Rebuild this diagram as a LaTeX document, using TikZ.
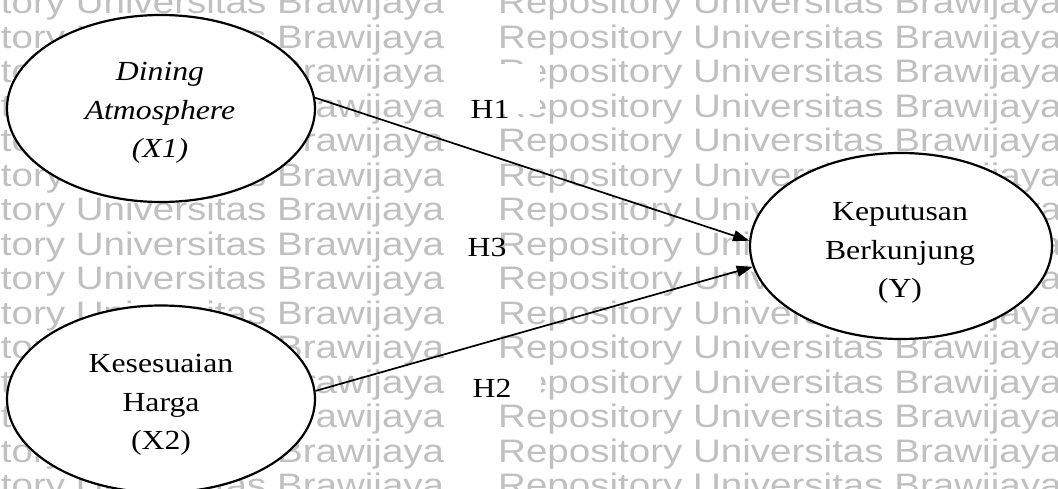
\documentclass[tikz,border=0pt]{standalone}
\usepackage{fontspec}
\setmainfont{Liberation Serif}[FakeStretch=1.15]
\newfontfamily\wmfont{Liberation Sans}[FakeStretch=1.186]
\usetikzlibrary{arrows.meta,shapes.geometric}
\definecolor{wmgray}{RGB}{192,192,192}
\tikzset{
  wm/.style={inner sep=0pt, text=wmgray, font=\wmfont\fontsize{32.5}{39}\selectfont},
  construct/.style={ellipse, draw=black, line width=2.2pt, fill=white,
    minimum width=308pt, minimum height=187pt, inner sep=0pt},
  ctext/.style={align=center, inner sep=0pt, font=\fontsize{27.6}{38.5}\selectfont},
  link/.style={-{Triangle[length=16pt,width=11pt]}, line width=1.7pt},
  hyp/.style={inner sep=0pt, font=\fontsize{27.6}{33}\selectfont},
  blank/.style={fill=white, inner sep=0pt, anchor=north west}
}
\begin{document}
\begin{tikzpicture}[x=1pt,y=-1pt]
\useasboundingbox (0,0) rectangle (1058,488);
\clip (0,0) rectangle (1058,488);

% repository watermark rows
\foreach \k in {0,...,14}{
  \pgfmathsetmacro{\wy}{13.5+34.5*\k}
  \node[wm, anchor=base east] (wl\k) at (444.5,\wy) {Repository Universitas Brawijaya};
  \node[wm, anchor=base west] (wr\k) at (498,\wy) {Repository Universitas Brawijaya};
}

% white backing of the H1 and H2 text boxes
\node[blank, minimum width=90pt, minimum height=50pt] (h1box) at (450,64) {};
\node[blank, minimum width=86pt, minimum height=40pt] (h2box) at (455,364) {};

% constructs
\node[construct] (x1) at (161,108.5) {};
\node[construct] (x2) at (161,399) {};
\node[construct, minimum width=302pt, minimum height=186pt] (y) at (901,246) {};

\node[ctext] (x1t) at (160,113) {\itshape Dining\\\itshape Atmosphere\\\itshape (X1)};
\node[ctext] (x2t) at (161,405) {Kesesuaian\\Harga\\(X2)};
\node[ctext] (yt) at (900,253) {Keputusan\\Berkunjung\\(Y)};

% hypothesised paths
\draw[link] (x1.4) -- (y.178);
\draw[link] (x2.3) -- (y.188);

\node[hyp] (h1) at (490,109) {H1};
\node[hyp] (h3) at (487,247) {H3};
\node[hyp] (h2) at (492,388) {H2};
\end{tikzpicture}
\end{document}
